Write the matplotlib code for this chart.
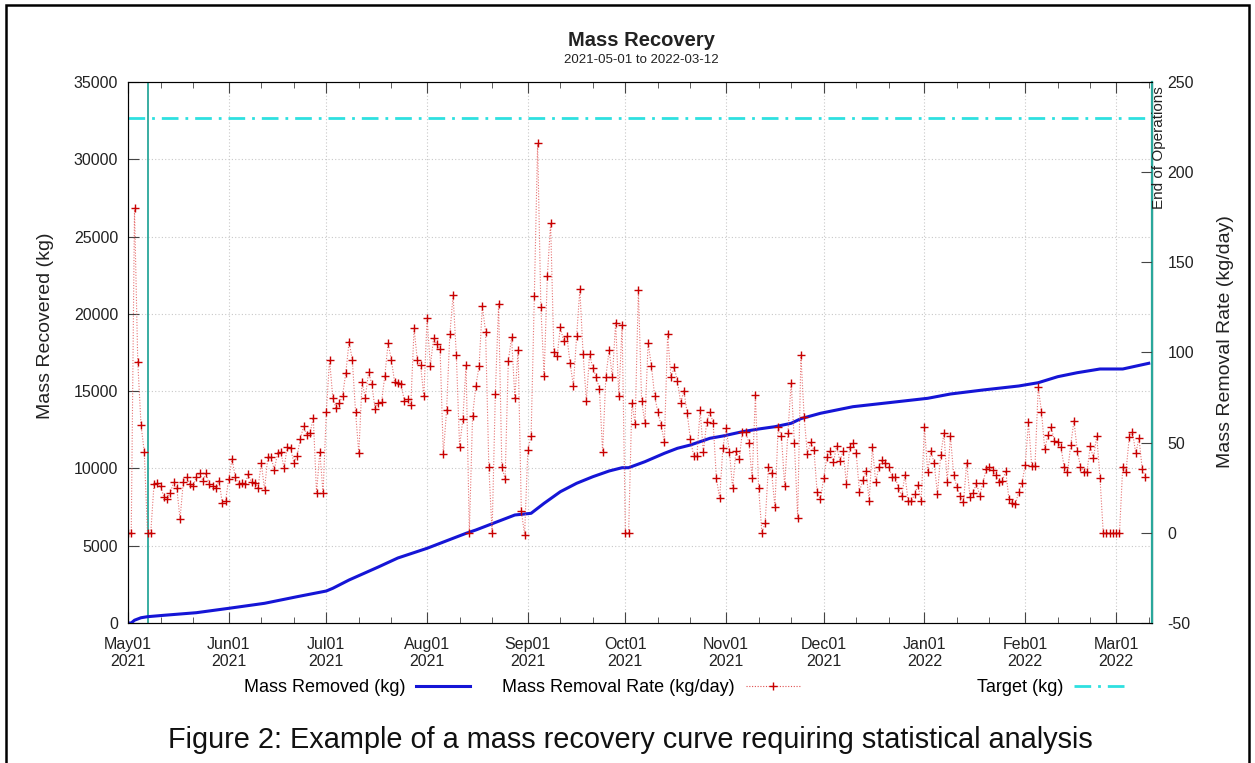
import numpy as np
import pandas as pd
import matplotlib
matplotlib.use('Agg')
import matplotlib.pyplot as plt
import matplotlib.dates as mdates
from matplotlib.lines import Line2D
from matplotlib.patches import Rectangle

plt.rcParams['font.family'] = ['Liberation Sans', 'DejaVu Sans']
plt.rcParams['axes.unicode_minus'] = False

# Daily mass removal rate (kg/day), one value per day starting 2021-05-01
rate_may = [0, 0, 180, 95, 60, 45, 0, 0, 27, 27.6, 26, 20, 19, 22, 28, 25, 7.6, 28, 31, 27,
            26, 31, 33, 29, 33, 27, 26, 25, 29, 16.5, 17.6]
rate_jun = [30, 41, 31, 27, 27.6, 27, 32.6, 28, 27.6, 25, 38.7, 24, 42, 42, 35, 44, 45, 36,
            47.5, 47, 39, 42.6, 52, 59, 54, 55.5, 63.6, 22, 45, 22]
rate_jul = [67, 96, 75, 69, 72, 76, 88.6, 106, 96, 67, 44, 83.5, 75, 89, 82.6, 68.6, 72, 72.5,
            87, 105, 96, 83.8, 83.2, 82.4, 73.3, 74, 70.9, 113.4, 95.8, 93, 75.9]
rate_aug = [119, 92.5, 107.9, 104.7, 101.8, 43.5, 68, 110, 131.9, 98.6, 47.8, 63, 93, 0, 65,
            81.4, 92.5, 125.8, 111.4, 36.7, 0, 77, 127, 36.7, 29.8, 95.5, 108.4, 75, 101.4, 12, -1]
rate_sep = [46, 53.7, 131.6, 216, 125.4, 87, 142.4, 171.7, 100.5, 98, 114, 106.4, 109, 94,
            81.6, 109, 135, 99, 73.3, 99, 91.2, 86.6, 80, 45, 86.6, 101.4, 86.2, 116.5, 75.9, 115.2]
rate_oct = [0, 0, 72.2, 60.3, 134.7, 73, 61, 105.4, 92.7, 76, 66.8, 59.8, 50.2, 110.3, 86.2,
            91.8, 84.4, 72.2, 78.8, 66.6, 51.9, 42.8, 42.8, 68.1, 44.6, 61.3, 67.2, 61, 30.2, 19.1, 47.2]
rate_nov = [58, 45, 24.7, 45.5, 40.8, 56, 56, 50, 30.2, 76.4, 24.7, 0, 5.6, 36.7, 33.3, 14.5,
            58.5, 53.9, 26, 55.5, 83.3, 49.6, 8.4, 98.6, 64, 43.5, 50.5, 45.9, 22.5, 18.6]
rate_dec = [30.2, 42.2, 45.5, 39.1, 48.1, 39.8, 45.5, 27, 47.7, 49.6, 44.4, 22.8, 29.3, 34.3,
            17.8, 47.7, 28, 36.7, 40.4, 38.5, 36.7, 31.1, 31.1, 24.7, 20.4, 32, 17.6, 17.6, 21.5, 26.5, 17.6]
rate_jan = [58.8, 34, 45.5, 38.5, 21.5, 43.2, 55.2, 28.3, 53.7, 32, 25.2, 20.4, 16.9, 38.9, 20,
            21.9, 27.8, 20.6, 27.8, 35.2, 36.7, 34.8, 32, 28.3, 28.9, 34.3, 18.6, 16.7, 16, 22.8, 27.5]
rate_feb = [37.6, 61.3, 37, 37, 80.7, 67.2, 46.4, 54.2, 58.5, 51.1, 50.5, 47.4, 36.3, 33.6,
            48.7, 62.2, 45.5, 36.7, 33.9, 33.9, 48.1, 41.3, 53.9, 30.6, 0, 0, 0, 0]
rate_mar = [0, 0, 36.7, 33.9, 53, 56, 44.1, 52.4, 35.2, 31.1]

rate = (rate_may + rate_jun + rate_jul + rate_aug + rate_sep + rate_oct + rate_nov
        + rate_dec + rate_jan + rate_feb + rate_mar)
rate_dates = pd.date_range('2021-05-01', periods=len(rate), freq='D')

# Cumulative mass removed (kg)
mass_dates = pd.to_datetime([
    '2021-05-01', '2021-05-02', '2021-05-03', '2021-05-05', '2021-05-07', '2021-05-12',
    '2021-05-22', '2021-06-01', '2021-06-12', '2021-06-22', '2021-07-01', '2021-07-03',
    '2021-07-08', '2021-07-17', '2021-07-23', '2021-08-01', '2021-08-13', '2021-08-16',
    '2021-08-20', '2021-08-24', '2021-08-28', '2021-09-02', '2021-09-06', '2021-09-11',
    '2021-09-16', '2021-09-21', '2021-09-26', '2021-09-30', '2021-10-02', '2021-10-07',
    '2021-10-13', '2021-10-17', '2021-10-21', '2021-10-27', '2021-10-31', '2021-11-06',
    '2021-11-11', '2021-11-16', '2021-11-21', '2021-11-24', '2021-11-30', '2021-12-10',
    '2021-12-21', '2022-01-02', '2022-01-09', '2022-01-19', '2022-01-30', '2022-02-05',
    '2022-02-11', '2022-02-17', '2022-02-24', '2022-03-03', '2022-03-11'])
mass_kg = [0, 0, 180, 340, 408, 498, 666, 950, 1274, 1701, 2070, 2245, 2782, 3623, 4205,
           4833, 5803, 6017, 6340, 6664, 6987, 7097, 7744, 8494, 9038, 9465, 9834, 10047,
           10047, 10435, 10979, 11302, 11516, 11949, 12098, 12376, 12551, 12700, 12920,
           13220, 13567, 13994, 14253, 14537, 14815, 15074, 15333, 15546, 15935, 16193,
           16433, 16433, 16801]

target_kg = 32700
start_ops = pd.Timestamp('2021-05-07')
end_ops = pd.Timestamp('2022-03-12')
x_start = pd.Timestamp('2021-05-01')

W, H = 1255, 763
fig = plt.figure(figsize=(W / 100, H / 100), dpi=100)
ax = fig.add_axes([128 / W, 1 - 623 / H, 1024 / W, 541 / H])
ax2 = ax.twinx()

text_col = '#222222'
teal = '#2aa79b'
target_dash = (6, 2.5, 1, 2.5)

# left axis: mass removed + target
ax.plot(mass_dates, mass_kg, color='#1515d6', lw=2.2, zorder=3)
ax.axhline(target_kg, color='#2ee0e0', lw=2, dashes=target_dash, zorder=3)
ax.axvline(start_ops, color=teal, lw=1.3, zorder=2)
ax.axvline(end_ops, color=teal, lw=1.6, zorder=5, clip_on=False)

# right axis: daily rate
ax2.plot(rate_dates, rate, color='#e05050', lw=0.8, ls=(0, (1, 1.5)), alpha=0.8)
ax2.plot(rate_dates, rate, ls='none', marker='+', ms=5.5, mew=1, color='#c80000')

ax.set_xlim(x_start, end_ops)
ax.set_ylim(0, 35000)
ax2.set_ylim(-50, 250)
ax.set_yticks(np.arange(0, 35001, 5000))
ax2.set_yticks(np.arange(-50, 251, 50))

ax.xaxis.set_major_locator(mdates.MonthLocator())
ax.xaxis.set_minor_locator(mdates.DayLocator(bymonthday=[11, 21]))
ax.xaxis.set_major_formatter(mdates.DateFormatter('%b%d\n%Y'))

ax.grid(True, which='major', color='#c8c8c8', ls=(0, (1, 2)), lw=0.8)
ax2.grid(False)

ax.tick_params(axis='x', which='major', direction='in', length=8, top=True, pad=10,
               labelsize=11.5, labelcolor=text_col, color='#444444')
ax.tick_params(axis='x', which='minor', direction='in', length=4, top=True, color='#444444')
ax.tick_params(axis='y', direction='in', length=8, pad=7, labelsize=11.5,
               labelcolor=text_col, color='#444444')
ax2.tick_params(axis='y', direction='in', length=8, pad=11, labelsize=11.5,
                labelcolor=text_col, color='#444444')

for sp in ['left', 'top', 'bottom']:
    ax.spines[sp].set_color('#444444')
ax2.spines['right'].set_color(teal)

ax.set_ylabel('Mass Recovered (kg)', fontsize=14, color=text_col)
ax.yaxis.set_label_coords(-0.072, 0.55)
ax2.set_ylabel('Mass Removal Rate (kg/day)', fontsize=14, color=text_col)
ax2.yaxis.set_label_coords(1.063, 0.52)

fig.text(1159 / W, 1 - 86 / H, 'End of Operations', rotation=90, ha='center', va='top',
         fontsize=11, color=text_col)

fig.text(641 / W, 1 - 40 / H, 'Mass Recovery', ha='center', va='center',
         fontsize=14.5, fontweight='bold', color=text_col)
fig.text(641 / W, 1 - 60 / H, '2021-05-01 to 2022-03-12', ha='center', va='center',
         fontsize=9.5, color=text_col)

# legend: three entries, label left of sample, like gnuplot's key
handles = [
    Line2D([], [], color='#1515d6', lw=2.2),
    Line2D([], [], color='#e05050', lw=0.8, ls=(0, (1, 1.5)), marker='+', ms=5.5, mew=1,
           markeredgecolor='#c80000'),
    Line2D([], [], color='#2ee0e0', lw=2, dashes=target_dash),
]
labels = ['Mass Removed (kg)', 'Mass Removal Rate (kg/day)', 'Target (kg)']
right_edges = [470, 800, 1128]
for h, lab, xr in zip(handles, labels, right_edges):
    fig.legend([h], [lab], loc='center right', bbox_to_anchor=(xr / W, 1 - 688 / H),
               frameon=False, markerfirst=False, fontsize=13, handlelength=3.0,
               handletextpad=0.6, borderpad=0, borderaxespad=0, numpoints=1)

fig.text(630 / W, 1 - 740 / H,
         'Figure 2: Example of a mass recovery curve requiring statistical analysis',
         ha='center', va='center', fontsize=20.8, color='#111111')

# outer frame around the figure
fig.patches.append(Rectangle((5.5 / W, -0.05), (1249 - 5.5) / W, 1.05 - 4.7 / H,
                             transform=fig.transFigure, fill=False, lw=1.8,
                             edgecolor='black'))

fig.savefig('out.png', dpi=100)
